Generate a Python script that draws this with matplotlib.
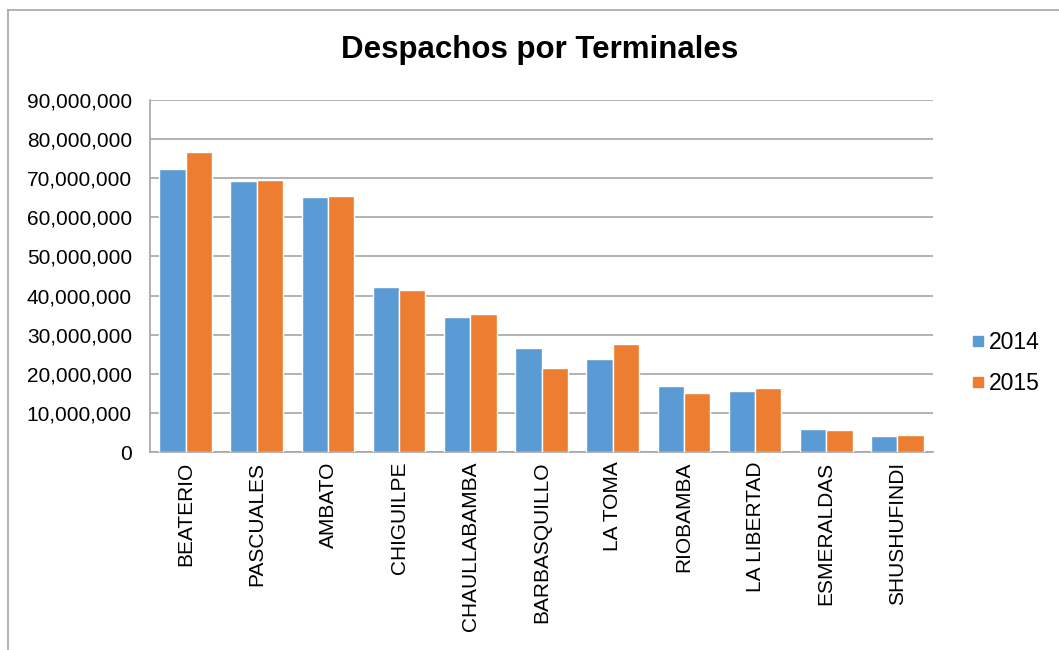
import numpy as np
import matplotlib.pyplot as plt
from matplotlib.lines import Line2D

plt.rcParams["font.family"] = ["Liberation Sans", "DejaVu Sans"]

# ---------------------------
# Data
# ---------------------------
terminales = ["BEATERIO", "PASCUALES", "AMBATO", "CHIGUILPE", "CHAULLABAMBA",
              "BARBASQUILLO", "LA TOMA", "RIOBAMBA", "LA LIBERTAD",
              "ESMERALDAS", "SHUSHUFINDI"]
v2014 = [72.3e6, 69.2e6, 65.3e6, 42.2e6, 34.6e6, 26.6e6, 23.8e6, 17.0e6,
         15.7e6, 5.9e6, 4.2e6]
v2015 = [76.8e6, 69.5e6, 65.4e6, 41.3e6, 35.2e6, 21.5e6, 27.6e6, 15.0e6,
         16.4e6, 5.5e6, 4.3e6]
years = ["2014", "2015"]
colors = ["#5B9BD5", "#ED7D31"]

# ---------------------------
# Plot
# ---------------------------
fig = plt.figure(figsize=(10.59, 6.5), dpi=100)
ax = fig.add_axes([150 / 1059, 1 - 452 / 650, 783 / 1059, 352 / 650])

x = np.arange(len(terminales))
w = 0.37
ax.bar(x - w / 2, v2014, w, color=colors[0], edgecolor="white", linewidth=1,
       label=years[0], zorder=3)
ax.bar(x + w / 2, v2015, w, color=colors[1], edgecolor="white", linewidth=1,
       label=years[1], zorder=3)

ax.set_xlim(-0.5, len(terminales) - 0.5)
ax.set_ylim(0, 90e6)
ax.set_yticks(np.arange(0, 90e6 + 1, 10e6))
ax.set_yticklabels([f"{int(v):,}" for v in np.arange(0, 90e6 + 1, 10e6)])
ax.set_xticks(x)
ax.set_xticklabels(terminales, rotation=90)
ax.tick_params(axis="y", length=0, pad=13, labelsize=15)
ax.tick_params(axis="x", length=0, pad=7, labelsize=15)
ax.yaxis.grid(True, color="#A6A6A6", linewidth=1.2, zorder=0)
for s in ["top", "right"]:
    ax.spines[s].set_visible(False)
for s in ["left", "bottom"]:
    ax.spines[s].set_color("#A6A6A6")
    ax.spines[s].set_linewidth(1.2)

fig.text(540 / 1059, 1 - 50 / 650, "Despachos por Terminales", ha="center",
         va="center", fontsize=22.5, fontweight="bold")

handles = [Line2D([], [], marker="s", linestyle="none", markersize=7,
                  markerfacecolor=c, markeredgecolor=c) for c in colors]
fig.legend(handles, years, loc="center left",
           bbox_to_anchor=(955 / 1059, 1 - 363 / 650), frameon=False,
           fontsize=16.5, handletextpad=0.1, labelspacing=0.75,
           handlelength=0.8, borderaxespad=0.2)

# outer chart border
fig.add_artist(Line2D([8 / 1059, 8 / 1059], [0, 1 - 10 / 650],
                      color="#A6A6A6", linewidth=1.2))
fig.add_artist(Line2D([8 / 1059, 1], [1 - 10 / 650, 1 - 10 / 650],
                      color="#A6A6A6", linewidth=1.2))

plt.savefig("out.png", dpi=100)
